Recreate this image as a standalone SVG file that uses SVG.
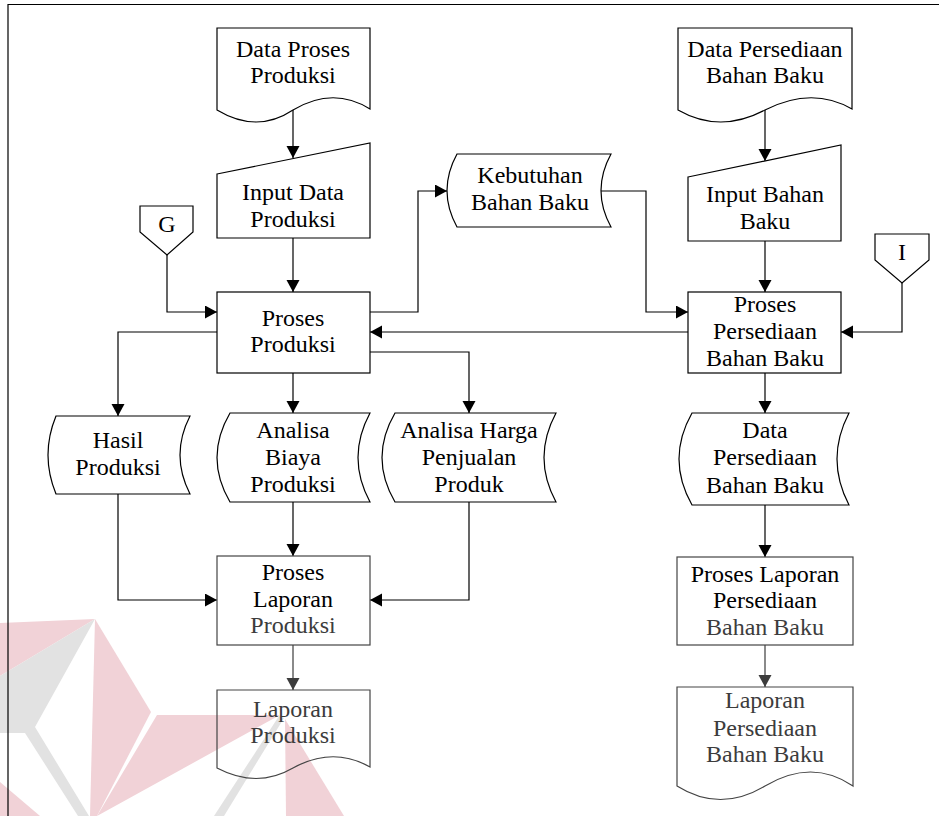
<svg xmlns="http://www.w3.org/2000/svg" width="939" height="816" viewBox="0 0 939 816">
  <defs>
    <marker id="arrow" markerUnits="userSpaceOnUse" markerWidth="13" markerHeight="14" refX="12" refY="6.5" orient="auto">
      <path d="M0,0 L12,6.5 L0,13 Z" fill="#000"/>
    </marker>
    <marker id="arrowGray" markerUnits="userSpaceOnUse" markerWidth="13" markerHeight="14" refX="12" refY="6.5" orient="auto">
      <path d="M0,0 L12,6.5 L0,13 Z" fill="#3c3c3c"/>
    </marker>
    <style>
      .shape { fill: #fff; stroke: #000; stroke-width: 1.2; }
      .shape.soft { stroke: #444; }
      .conn { fill: none; stroke: #000; stroke-width: 1.2; marker-end: url(#arrow); }
      .conn.plain { marker-end: none; }
      .conn.soft { stroke: #3c3c3c; marker-end: url(#arrowGray); }
      .label { font-family: "Liberation Serif", "Times New Roman", serif; font-size: 24px; fill: #000; text-anchor: middle; }
      .label .dim, .label.dim { fill: #3c3c3c; }
      .wm-red { fill: #f1d2d7; }
      .wm-gray { fill: #e2e2e2; }
    </style>
  </defs>

  <rect width="939" height="816" fill="#fff"/>

  <!-- background emblem -->
  <g id="emblem">
    <polygon class="wm-red" points="0,623 95,619 0,676"/>
    <polygon class="wm-gray" points="95,619 0,676 0,733 25,733 78,816 89,816 35,727"/>
    <polygon class="wm-red" points="95,619 151,712 97,816 90,816"/>
    <polygon class="wm-red" points="0,782 40,816 0,816"/>
    <polygon class="wm-red" points="157,715 280,715 97,816"/>
    <polygon class="wm-gray" points="279,716 284,718 224,816 214,816"/>
    <polygon class="wm-red" points="285,719 344,816 286,816"/>
  </g>

  <!-- frame -->
  <path d="M8,816 V4.5 H939" fill="none" stroke="#000" stroke-width="1.2"/>

  <!-- connectors -->
  <g id="connectors">
    <path class="conn" d="M293,110 V158"/>
    <path class="conn" d="M293,238 V292"/>
    <path class="conn" d="M167,255 V312 H217"/>
    <path class="conn" d="M370,312 H418 V191 H447"/>
    <path class="conn" d="M601,191 H646 V312 H688"/>
    <path class="conn" d="M765,110 V161"/>
    <path class="conn" d="M765,241 V292"/>
    <path class="conn" d="M902,283 V332 H841"/>
    <path class="conn" d="M688,332 H370"/>
    <path class="conn" d="M217,332 H118 V416"/>
    <path class="conn" d="M293,373 V413"/>
    <path class="conn" d="M370,352 H469 V413"/>
    <path class="conn" d="M765,373 V413"/>
    <path class="conn" d="M765,505 V557"/>
    <path class="conn" d="M118,494 V600 H217"/>
    <path class="conn" d="M469,502 V600 H370"/>
    <path class="conn" d="M293,502 V556"/>
    <path class="conn soft" d="M293,645 V690"/>
    <path class="conn soft" d="M765,645 V687"/>
  </g>

  <!-- nodes -->
  <g id="data-proses-produksi">
    <path class="shape" d="M217,28 H370 V109 Q333,86 293,110 Q257,134 217,110 Z"/>
    <text class="label" x="293" y="57">Data Proses</text>
    <text class="label" x="293" y="83">Produksi</text>
  </g>

  <g id="input-data-produksi">
    <path class="shape" d="M217,174 L370,143 V238 H217 Z"/>
    <text class="label" x="293" y="200">Input Data</text>
    <text class="label" x="293" y="227">Produksi</text>
  </g>

  <g id="connector-g">
    <path class="shape" d="M140,206 H193 V232 L167,255 L140,232 Z"/>
    <text class="label" x="167" y="232">G</text>
  </g>

  <g id="kebutuhan-bahan-baku">
    <path class="shape" d="M457,154 H611 Q591,190.5 611,227 H457 Q437,190.5 457,154 Z"/>
    <text class="label" x="530" y="183">Kebutuhan</text>
    <text class="label" x="530" y="210">Bahan Baku</text>
  </g>

  <g id="data-persediaan-bahan-baku">
    <path class="shape" d="M678,28 H852 V109 Q812,86 765,110 Q720,134 678,110 Z"/>
    <text class="label" x="765" y="57">Data Persediaan</text>
    <text class="label" x="765" y="83">Bahan Baku</text>
  </g>

  <g id="input-bahan-baku">
    <path class="shape" d="M688,177 L841,145 V241 H688 Z"/>
    <text class="label" x="765" y="202">Input Bahan</text>
    <text class="label" x="765" y="229">Baku</text>
  </g>

  <g id="connector-i">
    <path class="shape" d="M875,234 H929 V260 L902,283 L875,260 Z"/>
    <text class="label" x="902" y="260">I</text>
  </g>

  <g id="proses-produksi">
    <rect class="shape" x="217" y="292" width="153" height="81"/>
    <text class="label" x="293" y="326">Proses</text>
    <text class="label" x="293" y="352">Produksi</text>
  </g>

  <g id="proses-persediaan-bahan-baku">
    <rect class="shape" x="688" y="292" width="153" height="81"/>
    <text class="label" x="765" y="312">Proses</text>
    <text class="label" x="765" y="339">Persediaan</text>
    <text class="label" x="765" y="366">Bahan Baku</text>
  </g>

  <g id="hasil-produksi">
    <path class="shape" d="M56,416 H190 Q170,455 190,494 H56 Q40,455 56,416 Z"/>
    <text class="label" x="118" y="448">Hasil</text>
    <text class="label" x="118" y="475">Produksi</text>
  </g>

  <g id="analisa-biaya-produksi">
    <path class="shape" d="M230,413 H370 Q346,457.5 370,502 H230 Q204,457.5 230,413 Z"/>
    <text class="label" x="293" y="438">Analisa</text>
    <text class="label" x="293" y="465">Biaya</text>
    <text class="label" x="293" y="492">Produksi</text>
  </g>

  <g id="analisa-harga-penjualan-produk">
    <path class="shape" d="M395,413 H556 Q532,457.5 556,502 H395 Q369,457.5 395,413 Z"/>
    <text class="label" x="469" y="438">Analisa Harga</text>
    <text class="label" x="469" y="465">Penjualan</text>
    <text class="label" x="469" y="492">Produk</text>
  </g>

  <g id="data-persediaan-simpan">
    <path class="shape" d="M692,413 H849 Q825,459 849,505 H692 Q666,459 692,413 Z"/>
    <text class="label" x="765" y="438">Data</text>
    <text class="label" x="765" y="465">Persediaan</text>
    <text class="label" x="765" y="493">Bahan Baku</text>
  </g>

  <g id="proses-laporan-produksi">
    <rect class="shape soft" x="217" y="556" width="153" height="89"/>
    <text class="label" x="293" y="580">Proses</text>
    <text class="label" x="293" y="607">Laporan</text>
    <text class="label dim" x="293" y="633">Produksi</text>
  </g>

  <g id="proses-laporan-persediaan">
    <rect class="shape soft" x="677" y="557" width="176" height="88"/>
    <text class="label" x="765" y="582">Proses Laporan</text>
    <text class="label" x="765" y="608">Persediaan</text>
    <text class="label dim" x="765" y="635">Bahan Baku</text>
  </g>

  <g id="laporan-produksi">
    <path class="shape soft" d="M217,690 H370 V767 Q333,746 293,768 Q257,789 217,768 Z" fill-opacity="0"/>
    <text class="label dim" x="293" y="717">Laporan</text>
    <text class="label dim" x="293" y="743">Produksi</text>
  </g>

  <g id="laporan-persediaan-bahan-baku">
    <path class="shape soft" d="M677,687 H853 V786 Q812,758 765,786 Q720,813 677,786 Z"/>
    <text class="label dim" x="765" y="708">Laporan</text>
    <text class="label dim" x="765" y="736">Persediaan</text>
    <text class="label dim" x="765" y="762">Bahan Baku</text>
  </g>
</svg>
